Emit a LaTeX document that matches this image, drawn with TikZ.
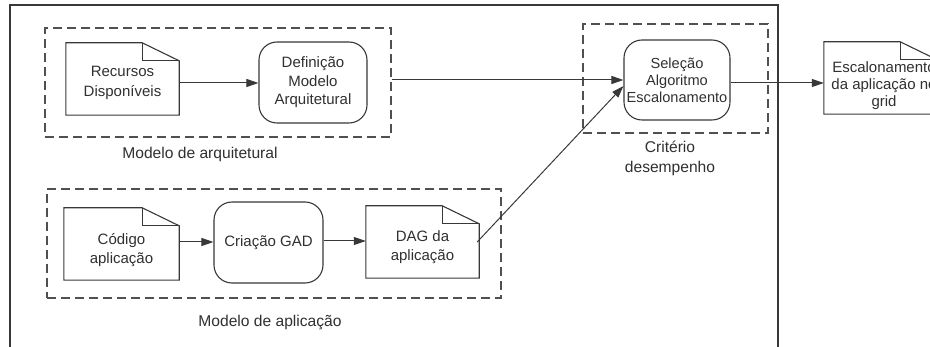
\documentclass[tikz,border=0pt]{standalone}
\usepackage{fontspec}
\setmainfont{Liberation Sans}
\usetikzlibrary{arrows.meta}
\definecolor{ink}{HTML}{383838}
\definecolor{txtc}{HTML}{303030}
\definecolor{dashc}{HTML}{505050}

% outline of a dog-eared document drawn around an (empty) node
\newcommand\dogear[1]{%
  \draw[shapeline] (#1.north west) -- ([xshift=-37pt]#1.north east)
    -- ([yshift=-18pt]#1.north east) -- (#1.south east) -- (#1.south west) -- cycle;
  \draw[shapeline] ([xshift=-37pt]#1.north east) |- ([yshift=-18pt]#1.north east);
}

\begin{document}
\begin{tikzpicture}[x=1pt,y=-1pt,
  shapeline/.style={draw=ink,line width=1.1pt},
  docbox/.style={inner sep=0pt,minimum width=113pt,minimum height=72pt},
  txt/.style={text=txtc,align=center,inner sep=0pt,font=\fontsize{15}{18.5}\selectfont},
  lbl/.style={txt,font=\fontsize{15.6}{20}\selectfont},
  roundbox/.style={txt,shapeline,rounded corners=18pt,minimum width=108pt,minimum height=81pt},
  group/.style={draw=dashc,line width=1.1pt,dash pattern=on 9pt off 5pt,inner sep=0pt},
  conn/.style={draw=ink,line width=1pt,-{Triangle[length=12pt,width=8pt]}}]

\useasboundingbox (0,0) rectangle (930,347);

% outer frame, open at the bottom edge
\draw[ink,line width=1.4pt] (10,347.5) -- (10,5) -- (778,5) -- (778,347.5);

% dashed groups
\node[group,minimum width=346pt,minimum height=109pt] (arch) at (218,82.5) {};
\node[group,minimum width=185pt,minimum height=109pt] (crit) at (675.5,78.5) {};
\node[group,minimum width=454pt,minimum height=109pt] (app) at (274,243.5) {};

% architecture model
\node[docbox] (rec) at (122.5,79) {};
\dogear{rec}
\node[txt,font=\fontsize{15}{20}\selectfont] (rec-t) at ([yshift=-4pt]rec.center) {Recursos\\Disponíveis};
\node[roundbox] (defn) at (313,82.5) {Definição\\Modelo\\Arquitetural};
\node[lbl] (arch-l) at (200,154) {Modelo de arquitetural};

% performance criterion
\node[roundbox,minimum width=106pt,minimum height=80pt,font=\fontsize{14.6}{17}\selectfont] (sel) at (677,80) {Seleção\\Algoritmo\\Escalonamento};
\node[lbl] (crit-l) at (670,158) {Critério\\desempenho};

% output document
\node[docbox] (esc) at (880.5,78) {};
\dogear{esc}
\node[txt,font=\fontsize{15}{17}\selectfont] (esc-t) at (884,86) {Escalonamento\\da aplicação no\\grid};

% application model
\node[docbox,minimum width=115pt] (cod) at (121.5,244) {};
\dogear{cod}
\node[txt,font=\fontsize{15}{19}\selectfont] (cod-t) at ([yshift=-6pt]cod.center) {Código\\aplicação};
\node[roundbox,minimum width=109pt] (gad) at (268.5,242.5) {Criação GAD};
\node[docbox] (dag) at (422.5,242) {};
\dogear{dag}
\node[txt,font=\fontsize{15}{19}\selectfont] (dag-t) at ([yshift=-5pt]dag.center) {DAG da\\aplicação};
\node[lbl] (app-l) at (270,323) {Modelo de aplicação};

% connectors
\draw[conn] ([yshift=-4pt]rec.east) -- ([yshift=-4pt]rec.east -| defn.west);
\draw[conn] (sel.west -| arch.east) -- (sel.west);
\draw[conn] ([yshift=2pt]cod.east) -- ([yshift=2pt]cod.east -| gad.west);
\draw[conn] (gad.east |- 0,241) -- (dag.west |- 0,241);
\draw[conn] ([xshift=-2pt]dag.east) -- ([yshift=-6pt]sel.west);
\draw[conn] ([yshift=-3pt]sel.east) -- ([yshift=-3pt]sel.east -| esc.west);

\end{tikzpicture}
\end{document}
